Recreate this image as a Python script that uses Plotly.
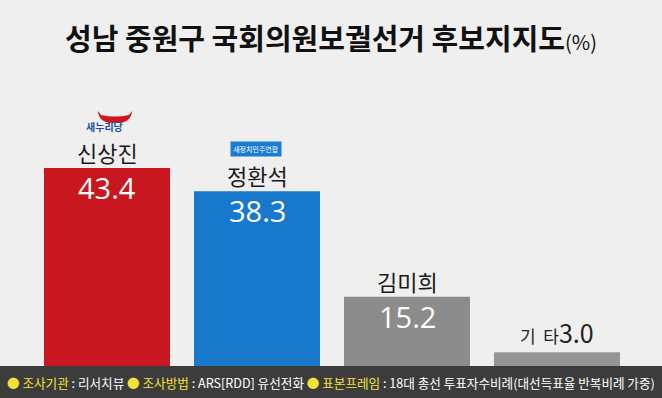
import plotly.graph_objects as go

# ---- data ----
candidates = ["신상진", "정환석", "김미희", "기 타"]
support = [43.4, 38.3, 15.2, 3.0]
bar_colors = ["#c8171e", "#1778cc", "#8c8c8c", "#959595"]
title_text = "성남 중원구 국회의원보궐선거 후보지지도"
footer_items = [("조사기관", "리서치뷰"), ("조사방법", "ARS[RDD] 유선전화"),
                ("표본프레임", "18대 총선 투표자수비례(대선득표율 반복비례 가중)")]

W, H = 662, 398
L, R, T, B = 32, 30, 80, 32
PW, PH = W - L - R, H - T - B
YMAX = PH / 4.56

def px(xp):
    return (xp - L) / PW

def py(yp):
    return (H - B - yp) / PH

FONT = "Noto Sans CJK KR"

fig = go.Figure(go.Bar(
    x=candidates, y=support, marker=dict(color=bar_colors, line=dict(width=0)),
    hoverinfo="skip", showlegend=False,
))

annotations = []
for name, val in zip(candidates, support):
    if name == "기 타":
        annotations.append(dict(
            x=name, y=val, xref="x", yref="y", yanchor="bottom", yshift=0,
            text=name.replace(" ", "&nbsp;&nbsp;") + f"<span style='font-size:25px'>{val:.1f}</span>",
            showarrow=False, font=dict(family=FONT, size=17, color="#222")))
    else:
        annotations.append(dict(
            x=name, y=val, xref="x", yref="y", yanchor="bottom", yshift=-2,
            text=name, showarrow=False, font=dict(family=FONT, size=22, color="#1a1a1a")))
        annotations.append(dict(
            x=name, y=val, xref="x", yref="y", yanchor="top", yshift=2,
            text=f"{val:.1f}", showarrow=False,
            font=dict(family="Open Sans", size=29, color="white")))

# party logos
annotations.append(dict(x=px(104), y=py(126), xref="paper", yref="paper",
                        xanchor="center", yanchor="middle",
                        text="<b>새누리당</b>", showarrow=False,
                        font=dict(family=FONT, size=10, color="#1d4f9f")))
annotations.append(dict(x=px(255.5), y=py(148.5), xref="paper", yref="paper",
                        xanchor="center", yanchor="middle",
                        text="새정치민주연합", showarrow=False, bgcolor="#1a7bd2",
                        width=48, height=12, borderpad=1,
                        font=dict(family=FONT, size=7, color="white")))

# footer text
parts = []
for k, v in footer_items:
    parts.append(f"<span style='color:#f3e23a'>● {k}</span> : {v}")
annotations.append(dict(x=px(331), y=py(382), xref="paper", yref="paper",
                        xanchor="center", yanchor="middle",
                        text=" ".join(parts), showarrow=False,
                        font=dict(family=FONT, size=12.6, color="white")))

shapes = [
    dict(type="rect", xref="paper", yref="paper", x0=px(0), x1=px(W), y0=py(H), y1=py(366),
         fillcolor="#3c3c3c", line=dict(width=0), layer="above"),
    dict(type="path", xref="paper", yref="paper", layer="above",
         path=(f"M {px(98)},{py(111)} Q {px(99)},{py(124)} {px(115)},{py(123)} "
               f"Q {px(131)},{py(124)} {px(132)},{py(111)} "
               f"L {px(129)},{py(115)} Q {px(115)},{py(118)} {px(101)},{py(115)} Z"),
         fillcolor="#d2161e", line=dict(width=0)),
]

fig.update_layout(
    width=W, height=H,
    margin=dict(l=L, r=R, t=T, b=B, pad=0),
    paper_bgcolor="#efefef", plot_bgcolor="#efefef",
    bargap=0.16,
    title=dict(text=f"<b>{title_text}</b><span style='font-size:20px'>(%)</span>",
               x=0.5, xanchor="center", y=1 - 40 / H, yanchor="middle",
               font=dict(family=FONT, size=29, color="#111")),
    xaxis=dict(visible=False, range=[-0.5, 3.5]),
    yaxis=dict(visible=False, range=[0, YMAX]),
    annotations=annotations, shapes=shapes,
)

fig.write_html("out.html", config={"displayModeBar": False},
               post_script="document.body.style.margin='0';")
